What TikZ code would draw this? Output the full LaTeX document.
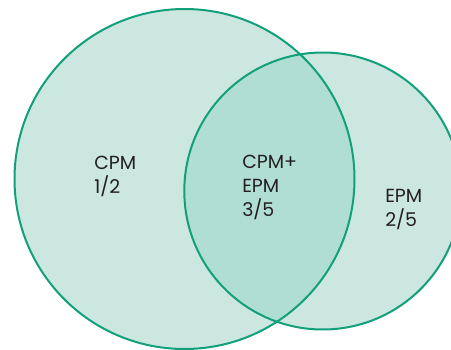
\documentclass[tikz,border=0pt]{standalone}
\usepackage{fontspec}
\setmainfont{Poppins}
\definecolor{ring}{HTML}{12A07A}
\definecolor{light}{HTML}{CCE7E0}
\definecolor{deep}{HTML}{B1DED2}
\definecolor{ink}{HTML}{231F20}
\begin{document}
\begin{tikzpicture}[x=0.75pt,y=-0.75pt,
  lbl/.style={align=left,anchor=base west,inner sep=0pt,text=ink,font=\fontsize{14.2}{18}\selectfont},
  ringline/.style={draw=ring,line width=1.5pt}]
\useasboundingbox (0,0) rectangle (451,350);
\clip (0,0) rectangle (451,350);
\coordinate (cl) at (184.5,179);
\coordinate (cr) at (322.8,191);
\fill[light] (cl) circle[radius=170];
\fill[light] (cr) circle[radius=138.5];
\begin{scope}
\clip (cl) circle[radius=170];
\fill[deep] (cr) circle[radius=138.5];
\end{scope}
\draw[ringline] (cl) circle[radius=170];
\draw[ringline] (cr) circle[radius=138.5];
\node[lbl] (a) at (94,193) {CPM\\1/2};
\node[lbl] (b) at (242,216) {CPM+\\EPM\\3/5};
\node[lbl] (c) at (385,226) {EPM\\2/5};
\end{tikzpicture}
\end{document}
